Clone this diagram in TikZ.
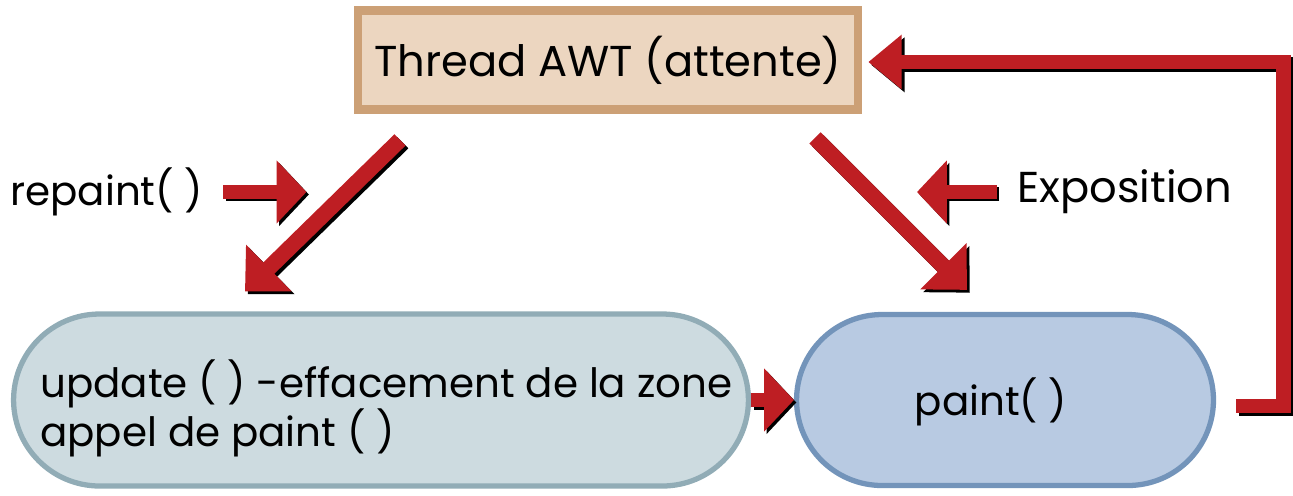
\documentclass[tikz,border=0pt]{standalone}
\usepackage{fontspec}
\setmainfont{Poppins}
\usepackage{tikz}
\usetikzlibrary{calc}
\usetikzlibrary{shapes.misc,arrows.meta}
\usepackage{xcolor}

\definecolor{arrowred}{RGB}{190,30,35}
\definecolor{tanfill}{RGB}{236,214,192}
\definecolor{tanedge}{RGB}{204,160,118}
\definecolor{greyfill}{RGB}{205,219,224}
\definecolor{greyedge}{RGB}{145,172,182}
\definecolor{bluefill}{RGB}{184,202,226}
\definecolor{blueedge}{RGB}{115,148,186}

\tikzset{
  bigarrow/.style={arrowred, line width=9pt, -{Triangle[length=19pt,width=36pt]},
    preaction={draw=black, line width=9pt, -{Triangle[length=19pt,width=36pt]},
      transform canvas={shift={(1.6pt,-1.6pt)}}}},
  smallarrow/.style={arrowred, line width=8pt, -{Triangle[length=17pt,width=35pt]},
    preaction={draw=black, line width=8pt, -{Triangle[length=17pt,width=35pt]},
      transform canvas={shift={(1.4pt,-1.4pt)}}}},
  backline/.style={arrowred, line width=8.5pt, -{Triangle[length=19pt,width=30pt]},
    preaction={draw=black, line width=8.5pt, -{Triangle[length=19pt,width=30pt]},
      transform canvas={shift={(1.6pt,-1.6pt)}}}},
  pill/.style={rounded rectangle, line width=3pt, inner sep=0pt},
  txt/.style={font=\fontsize{23}{28}\selectfont, inner sep=0pt},
}

\begin{document}
\begin{tikzpicture}[x=0.02cm,y=-0.02cm]
% \draw[lightgray] (0,0) grid[step=50] (1293,495);
\useasboundingbox (0,0) rectangle (1293,495);

\node[draw=tanedge, line width=5pt, fill=tanfill, minimum width=10.0cm, minimum height=1.98cm,
  inner sep=0pt, font=\fontsize{24.6}{30}\selectfont] (thread) at (608,60) {Thread AWT (attente)};

\node[pill, draw=greyedge, fill=greyfill, minimum width=14.7cm, minimum height=3.44cm] (update) at (381,400) {};
\node[txt, anchor=west, align=left] at (40,408) {update ( ) -effacement de la zone\\appel de paint ( )};

\node[pill, draw=blueedge, fill=bluefill, minimum width=8.34cm, minimum height=3.42cm] (paint) at (1005,400) {};
\node[txt] at (991,402) {paint( )};

\node[txt, anchor=west] (repaint) at (10,192) {repaint( )};
\node[txt, anchor=west, font=\fontsize{24.6}{30}\selectfont] (expo) at (1017,192) {Exposition};

% the two calls coming down from the thread
\coordinate (t1) at ($(thread.south)+(-208,26)$);
\coordinate (u1) at ($(update.north)+(-136,-20)$);
\coordinate (t2) at ($(thread.south)+(207,24)$);
\coordinate (p2) at ($(paint.north)+(-38,-22)$);
\draw[bigarrow] (t1) -- (u1);
\draw[bigarrow] (t2) -- (p2);

\coordinate (r1) at ($(repaint.east)+(20,0)$);
\draw[smallarrow] (r1) -- ++(83,0);
\coordinate (e1) at ($(expo.west)+(-20,0)$);
\draw[smallarrow] (e1) -- ++(-80,0);

\draw[smallarrow] (update.east) -- (paint.west);

% back to waiting
\draw[backline] ($(paint.east)+(20,6)$) -- ++(47,0) |- ($(thread.east)+(6,2)$);

\end{tikzpicture}
\end{document}
